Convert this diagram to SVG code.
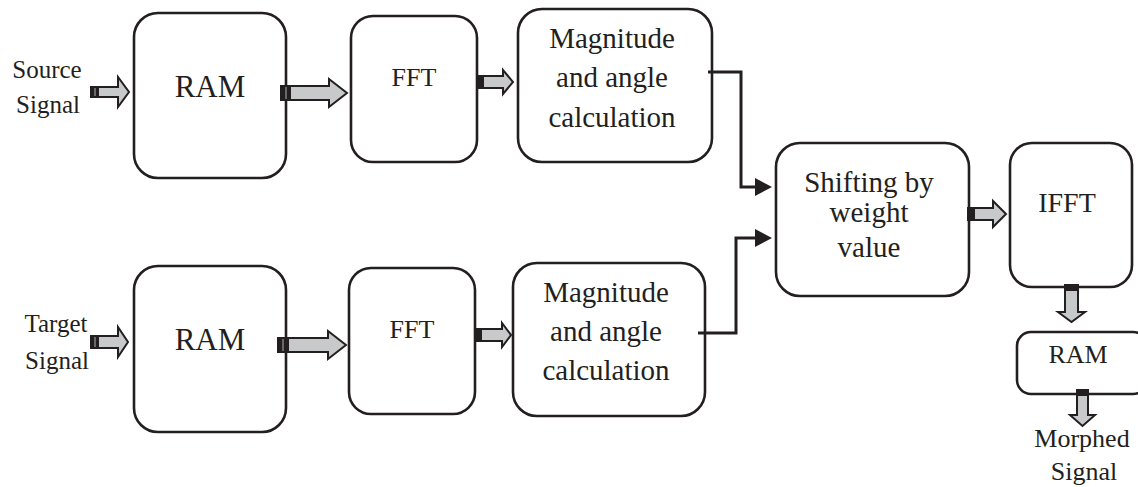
<svg xmlns="http://www.w3.org/2000/svg" width="1138" height="487" viewBox="0 0 1138 487">
<style>
.box{fill:#fff;stroke:#231f20;stroke-width:2.6}
text{font-family:'Liberation Serif','Times New Roman','DejaVu Serif',serif;fill:#231f20;text-anchor:middle}
.ba{fill:#c8c9cb;stroke:#231f20;stroke-width:2;stroke-linejoin:miter}
.base{fill:#231f20}
.stripe{stroke:#9a9a9a;stroke-width:1.2}
.con{fill:none;stroke:#231f20;stroke-width:3}
.head{fill:#231f20}
</style>
<rect width="1138" height="487" fill="#fff"/>
<g id="source-label"><text font-size="25" x="47" y="78">Source</text><text font-size="25" x="48" y="113">Signal</text></g>
<g id="target-label"><text font-size="25" x="56" y="332">Target</text><text font-size="25" x="57" y="369">Signal</text></g>
<g id="ram1"><rect class="box" x="134" y="13" width="152" height="165" rx="24"/><text font-size="31" x="210" y="97">RAM</text></g>
<g id="fft1"><rect class="box" x="351" y="16" width="126" height="146" rx="22"/><text font-size="26" x="414" y="86">FFT</text></g>
<g id="mag1"><rect class="box" x="518" y="9" width="194" height="153" rx="24"/><text font-size="29" x="612" y="48">Magnitude</text><text font-size="29" x="612" y="87">and angle</text><text font-size="29" x="612" y="127">calculation</text></g>
<g id="ram2"><rect class="box" x="134" y="266" width="152" height="166" rx="24"/><text font-size="31" x="210" y="350">RAM</text></g>
<g id="fft2"><rect class="box" x="349" y="268" width="126" height="146" rx="22"/><text font-size="26" x="412" y="338">FFT</text></g>
<g id="mag2"><rect class="box" x="513" y="263" width="192" height="153" rx="24"/><text font-size="29" x="606" y="302">Magnitude</text><text font-size="29" x="606" y="341">and angle</text><text font-size="29" x="606" y="380">calculation</text></g>
<g id="shift"><rect class="box" x="776" y="143" width="193" height="153" rx="24"/><text font-size="29" x="869" y="192">Shifting by</text><text font-size="29" x="869" y="222">weight</text><text font-size="29" x="869" y="257">value</text></g>
<g id="ifft"><rect class="box" x="1010" y="143" width="122" height="144" rx="22"/><text font-size="28" x="1067" y="212">IFFT</text></g>
<g id="ram3"><rect class="box" x="1017" y="332" width="130" height="62" rx="14"/><text font-size="26" x="1078" y="363">RAM</text></g>
<g id="morphed-label"><text font-size="26" x="1082" y="447">Morphed</text><text font-size="26" x="1084" y="480">Signal</text></g>
<g id="connectors">
<path class="ba" d="M91,87 H118 V77 L129,92 L118,107 V97 H91 Z"/><rect class="base" x="91" y="87" width="8" height="10"/><line class="stripe" x1="95" y1="88" x2="95" y2="96"/>
<path class="ba" d="M281,86 H329 V79 L347,93 L329,107 V100 H281 Z"/><rect class="base" x="281" y="86" width="10" height="14"/><line class="stripe" x1="286" y1="87" x2="286" y2="99"/>
<path class="ba" d="M478,76 H503 V70 L513,82 L503,94 V88 H478 Z"/><rect class="base" x="478" y="76" width="6" height="12"/>
<path class="ba" d="M91,336 H118 V327 L128,342 L118,357 V348 H91 Z"/><rect class="base" x="91" y="336" width="8" height="12"/><line class="stripe" x1="95" y1="337" x2="95" y2="347"/>
<path class="ba" d="M278,338 H328 V331 L346,345 L328,359 V352 H278 Z"/><rect class="base" x="278" y="338" width="11" height="14"/><line class="stripe" x1="283" y1="339" x2="283" y2="351"/>
<path class="ba" d="M476,329 H502 V323 L511,335 L502,347 V341 H476 Z"/><rect class="base" x="476" y="329" width="6" height="12"/>
<path class="ba" d="M968,208 H993 V201 L1006,214 L993,227 V220 H968 Z"/><rect class="base" x="968" y="208" width="7" height="12"/>
<path class="ba" d="M1065,285 V312 H1058 L1071.5,322 L1085,312 H1078 V285 Z"/><rect class="base" x="1065" y="285" width="13" height="6"/>
<path class="ba" d="M1077,390 V415 H1070 L1082.5,426 L1095,415 H1088 V390 Z"/><rect class="base" x="1077" y="390" width="11" height="6"/>
<path class="con" d="M708,72 H741 V187 H758"/><polygon class="head" points="755,178 772,187 755,196"/>
<path class="con" d="M698,333 H736 V238 H758"/><polygon class="head" points="755,229 772,238 755,247"/>
</g>
</svg>
